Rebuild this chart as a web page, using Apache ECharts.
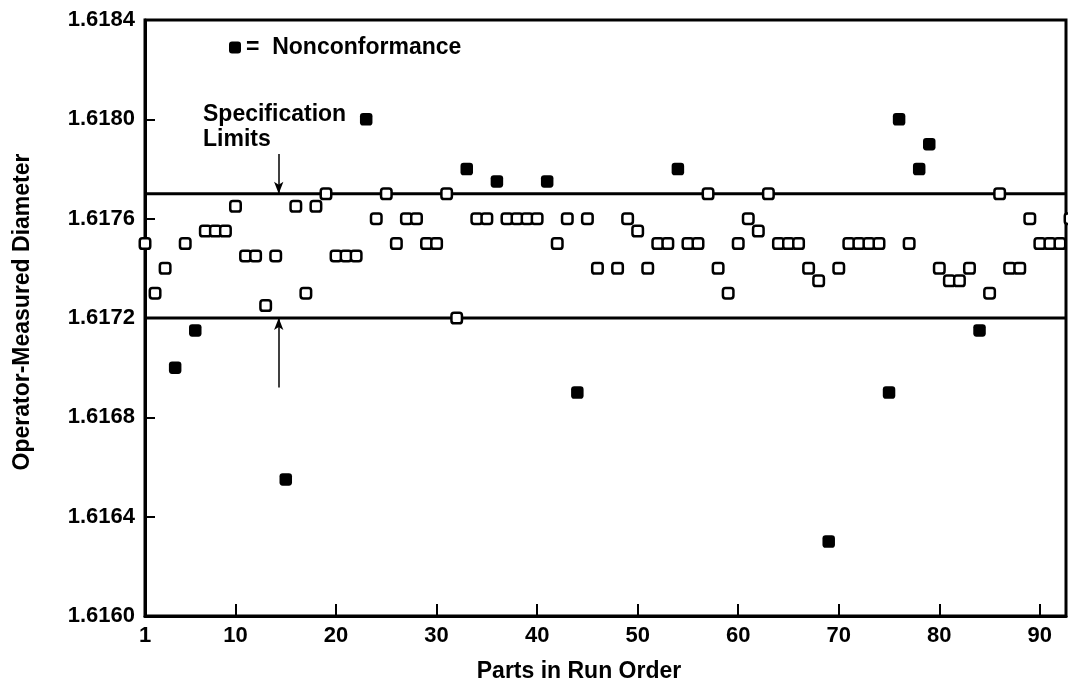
<!DOCTYPE html>
<html>
<head>
<meta charset="utf-8">
<title>Operator-Measured Diameter</title>
<script src="https://cdn.jsdelivr.net/npm/echarts@6/dist/echarts.min.js"></script>
<style>
  html, body { margin: 0; padding: 0; background: #fff; }
  #chart { width: 1068px; height: 688px; }
</style>
</head>
<body>
<div id="chart"></div>
<script>
// parts that met the spec (open squares)
var conformParts = [1, 2, 3, 5, 7, 8, 9, 10, 11, 12, 13, 14, 16, 17, 18, 19, 20, 21, 22,
  24, 25, 26, 27, 28, 29, 30, 31, 32, 34, 35, 37, 38, 39, 40, 42, 43, 45, 46, 48, 49,
  50, 51, 52, 53, 55, 56, 57, 58, 59, 60, 61, 62, 63, 64, 65, 66, 67, 68, 70, 71, 72,
  73, 74, 77, 80, 81, 82, 83, 85, 86, 87, 88, 89, 90, 91, 92, 93];
var conformDiam = [1.6175, 1.6173, 1.6174, 1.6175, 1.61755, 1.61755, 1.61755, 1.61765,
  1.61745, 1.61745, 1.61725, 1.61745, 1.61765, 1.6173, 1.61765, 1.6177, 1.61745, 1.61745,
  1.61745, 1.6176, 1.6177, 1.6175, 1.6176, 1.6176, 1.6175, 1.6175, 1.6177, 1.6172,
  1.6176, 1.6176, 1.6176, 1.6176, 1.6176, 1.6176, 1.6175, 1.6176, 1.6176, 1.6174,
  1.6174, 1.6176, 1.61755, 1.6174, 1.6175, 1.6175, 1.6175, 1.6175, 1.6177, 1.6174,
  1.6173, 1.6175, 1.6176, 1.61755, 1.6177, 1.6175, 1.6175, 1.6175, 1.6174, 1.61735,
  1.6174, 1.6175, 1.6175, 1.6175, 1.6175, 1.6175, 1.6174, 1.61735, 1.61735, 1.6174,
  1.6173, 1.6177, 1.6174, 1.6174, 1.6176, 1.6175, 1.6175, 1.6175, 1.6176];

// nonconforming parts (filled squares)
var nonconfParts = [4, 6, 15, 23, 33, 36, 41, 44, 54, 69, 75, 76, 78, 79, 84];
var nonconfDiam = [1.6170, 1.61715, 1.61655, 1.6180, 1.6178, 1.61775, 1.61775, 1.6169,
  1.6178, 1.6163, 1.6169, 1.6180, 1.6178, 1.6179, 1.61715];

var specLimits = [1.6177, 1.6172];
// arrows pointing at the limits: [x, from, to]
var specArrows = [[14.3, 1.61786, 1.6177], [14.3, 1.61692, 1.6172]];

var xMin = 1, xMax = 92.6;
var xLabels = [1, 10, 20, 30, 40, 50, 60, 70, 80, 90];
var xTicks = [10, 20, 30, 40, 50, 60, 70, 80, 90];

var FONT = "'Liberation Sans', Arial, sans-serif";

function pairs(xs, ys) {
  return xs.map(function (x, i) { return [x, ys[i]]; });
}

var limitSeries = specLimits.map(function (v, i) {
  return {
    name: 'limit' + i,
    type: 'line',
    data: [[xMin, v], [xMax, v]],
    symbol: 'none',
    silent: true,
    lineStyle: { color: '#000', width: 3 },
    z: 2
  };
});

var chart = echarts.init(document.getElementById('chart'));
chart.setOption({
  animation: false,
  backgroundColor: '#fff',
  textStyle: { fontFamily: FONT, fontWeight: 'bold', color: '#000' },
  grid: {
    left: 145, right: 2, top: 20, bottom: 71,
    show: true, borderColor: '#000', borderWidth: 3
  },
  legend: {
    data: ['Nonconformance'],
    left: 224, top: 31,
    icon: 'roundRect', itemWidth: 12, itemHeight: 12,
    formatter: function (name) { return '=  ' + name; },
    textStyle: { fontFamily: FONT, fontWeight: 'bold', fontSize: 23, color: '#000' }
  },
  graphic: [{
    type: 'text',
    left: 203, top: 102,
    style: {
      text: 'Specification\nLimits',
      font: 'bold 23px ' + FONT,
      lineHeight: 25,
      fill: '#000'
    }
  }],
  xAxis: {
    type: 'value',
    min: xMin, max: xMax,
    name: 'Parts in Run Order',
    nameLocation: 'middle',
    nameGap: 44,
    nameTextStyle: { fontFamily: FONT, fontWeight: 'bold', fontSize: 23, color: '#000', padding: [0, 53, 0, 0] },
    splitLine: { show: false },
    axisLine: { lineStyle: { color: '#000', width: 3 } },
    axisTick: { inside: true, length: 12, customValues: xTicks, lineStyle: { color: '#000', width: 2 } },
    axisLabel: { customValues: xLabels, margin: 9, fontSize: 22, fontWeight: 'bold', color: '#000', fontFamily: FONT }
  },
  yAxis: {
    type: 'value',
    min: 1.616, max: 1.6184, interval: 0.0004,
    name: 'Operator-Measured Diameter',
    nameLocation: 'middle',
    nameGap: 111,
    nameTextStyle: { fontFamily: FONT, fontWeight: 'bold', fontSize: 23, color: '#000', padding: [0, 0, 0, 12] },
    splitLine: { show: false },
    axisLine: { show: true, lineStyle: { color: '#000', width: 3 } },
    axisTick: { show: true, inside: true, length: 10, lineStyle: { color: '#000', width: 2 } },
    axisLabel: {
      margin: 10, fontSize: 22, fontWeight: 'bold', color: '#000', fontFamily: FONT,
      formatter: function (v) { return v.toFixed(4); }
    }
  },
  series: limitSeries.concat([
    {
      name: 'Conforming',
      type: 'scatter',
      data: pairs(conformParts, conformDiam),
      symbol: 'roundRect',
      symbolSize: 10.5,
      clip: false,
      itemStyle: { color: '#fff', borderColor: '#000', borderWidth: 2.5, opacity: 1 },
      z: 3
    },
    {
      name: 'Nonconformance',
      type: 'scatter',
      data: pairs(nonconfParts, nonconfDiam),
      symbol: 'roundRect',
      symbolSize: 12.5,
      itemStyle: { color: '#000', opacity: 1 },
      z: 3,
      markLine: {
        silent: true,
        symbol: ['none', 'arrow'],
        symbolSize: [7, 12],
        label: { show: false },
        lineStyle: { color: '#000', width: 1.5, type: 'solid' },
        data: specArrows.map(function (a) {
          return [{ coord: [a[0], a[1]] }, { coord: [a[0], a[2]] }];
        })
      }
    }
  ])
});
</script>
</body>
</html>
